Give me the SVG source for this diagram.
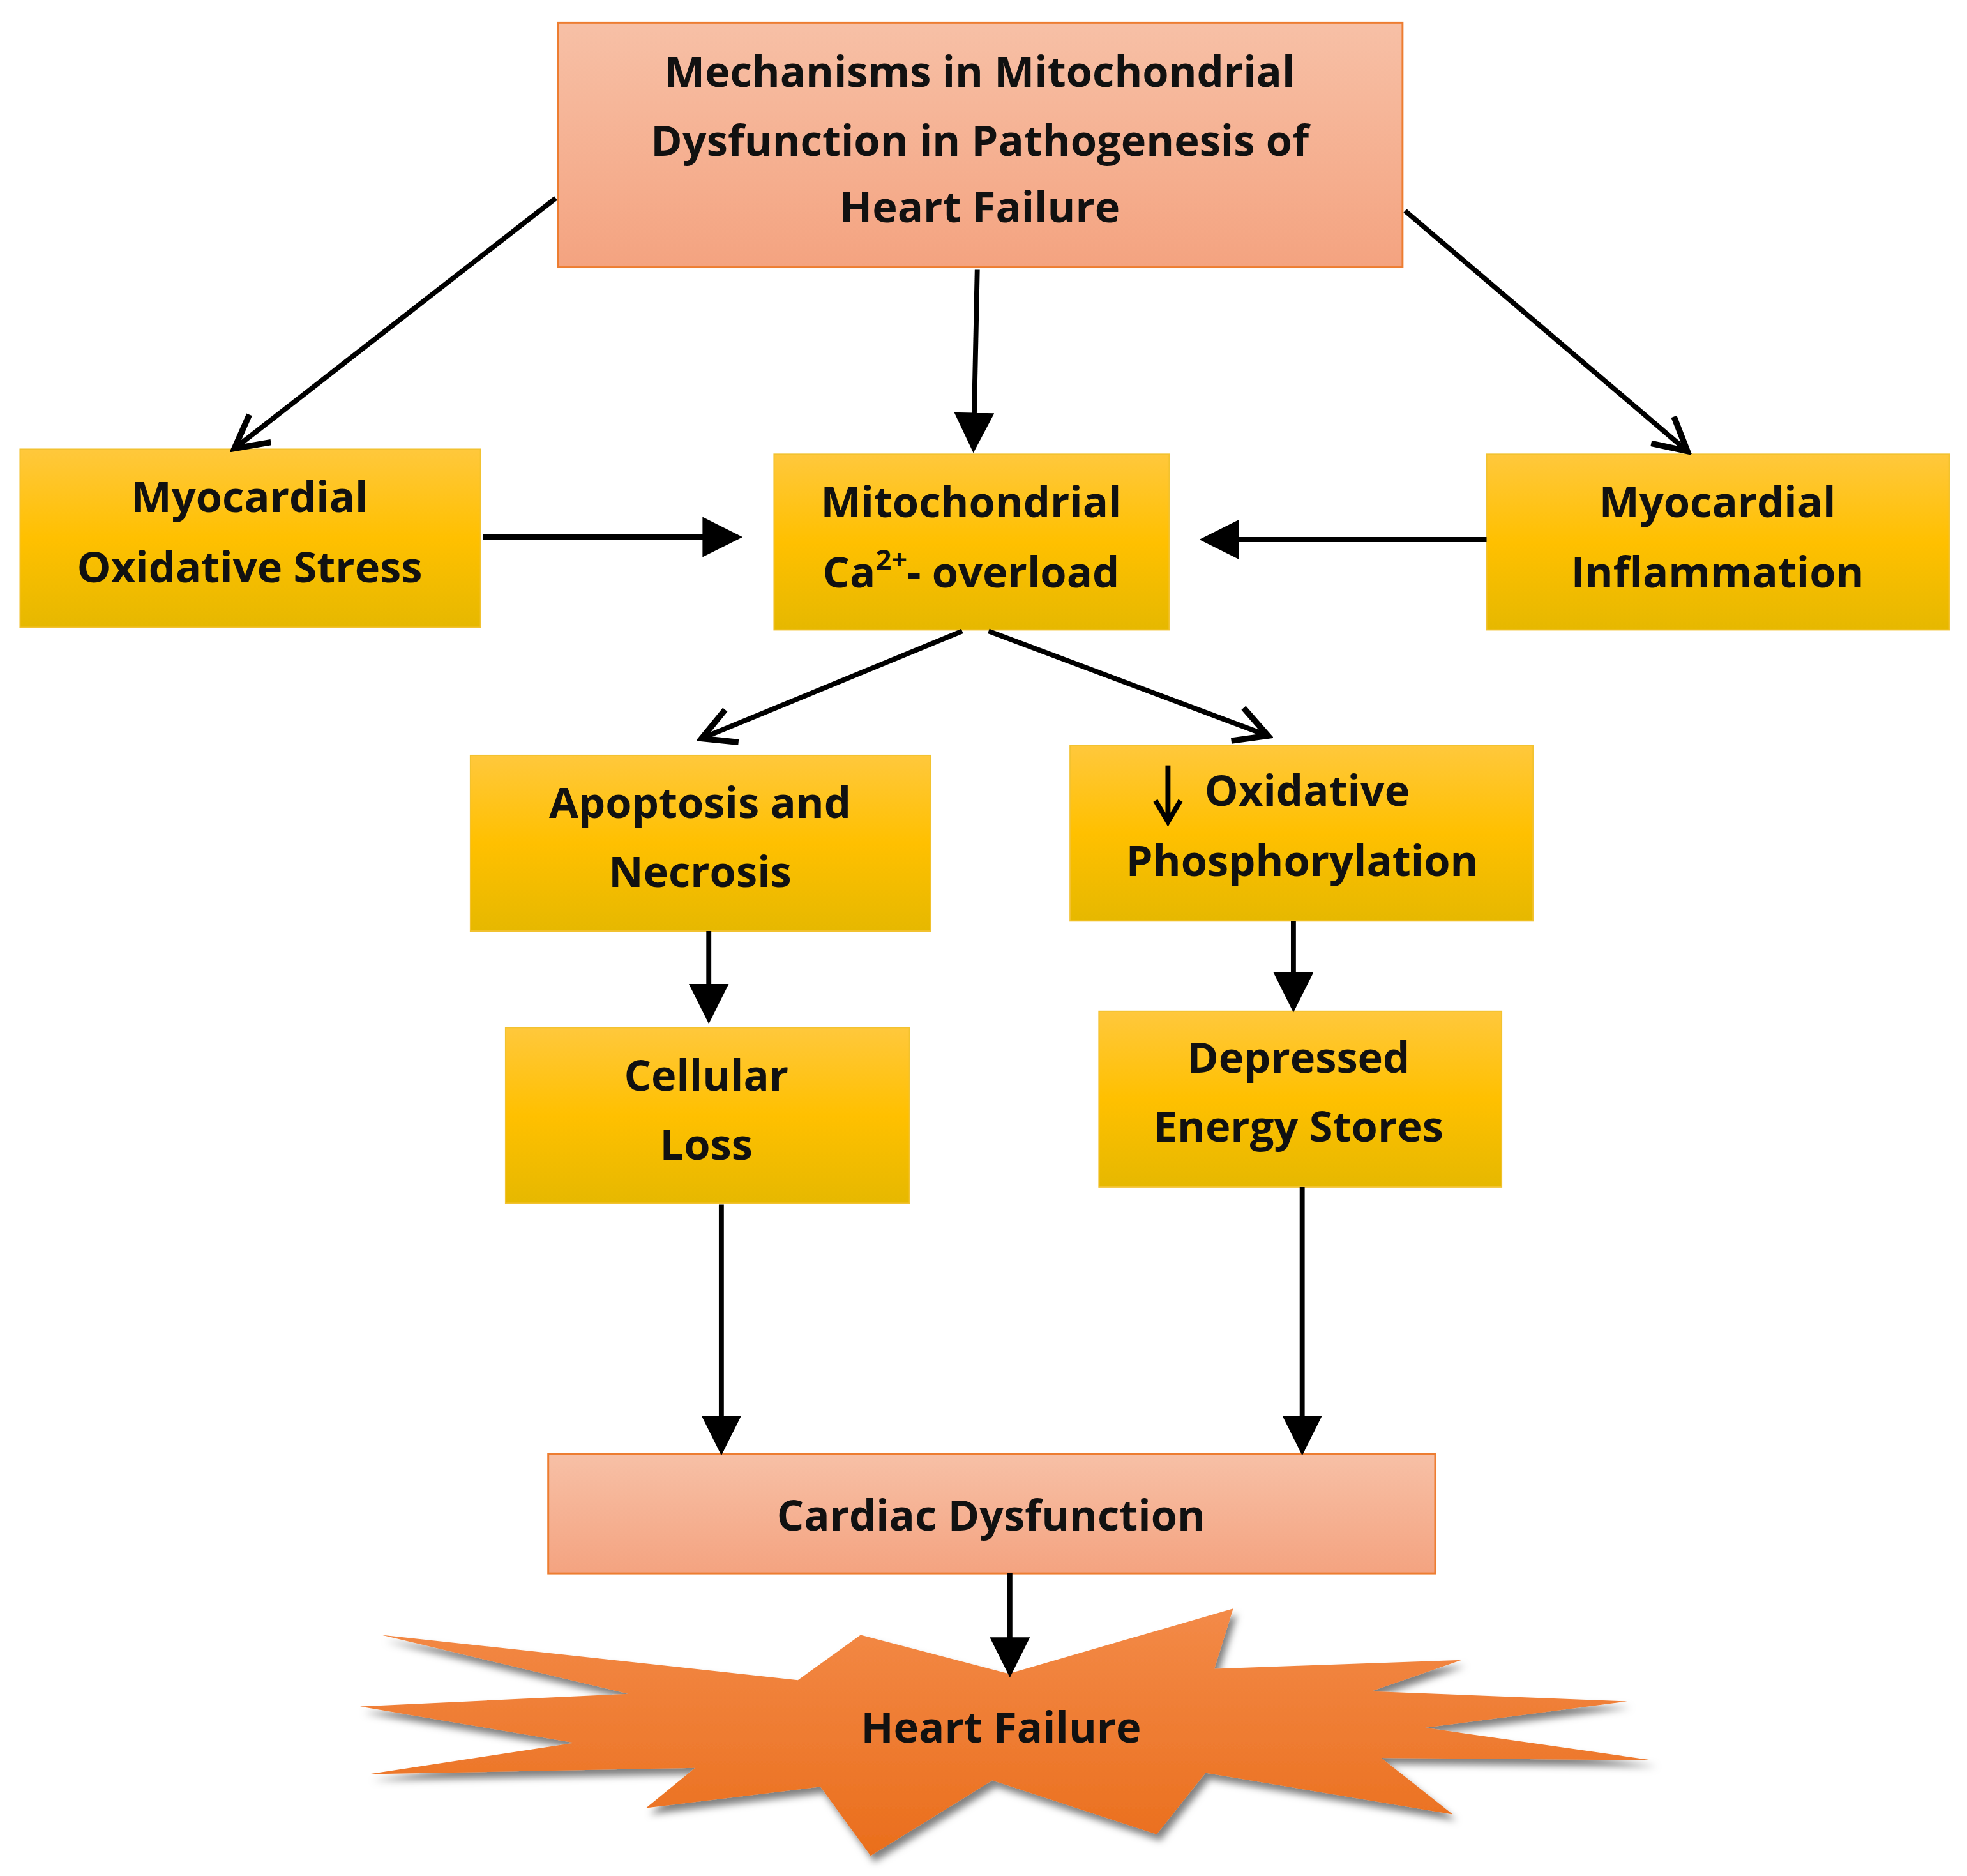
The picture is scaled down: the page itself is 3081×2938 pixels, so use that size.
<svg xmlns="http://www.w3.org/2000/svg" width="3081" height="2938" viewBox="0 0 3081 2938">
<defs>
<linearGradient id="pk" x1="0" y1="0" x2="0" y2="1"><stop offset="0" stop-color="#f7c0a6"/><stop offset="1" stop-color="#f4a380"/></linearGradient>
<linearGradient id="yl" x1="0" y1="0" x2="0" y2="1"><stop offset="0" stop-color="#ffc83c"/><stop offset="0.5" stop-color="#ffc000"/><stop offset="1" stop-color="#e6b800"/></linearGradient>
<linearGradient id="or" x1="0" y1="0" x2="0" y2="1"><stop offset="0" stop-color="#f38a48"/><stop offset="1" stop-color="#ea6e1c"/></linearGradient>
<marker id="ah" markerWidth="8" markerHeight="8" refX="7" refY="4" orient="auto" markerUnits="strokeWidth"><path d="M0,0 L8,4 L0,8 z" fill="#000"/></marker>
<marker id="av" markerWidth="8" markerHeight="8" refX="6" refY="4" orient="auto" markerUnits="strokeWidth"><path d="M0.5,0.5 L7,4 L0.5,7.5" fill="none" stroke="#000" stroke-width="1.2"/></marker>
<filter id="sh" x="-10%" y="-10%" width="120%" height="130%"><feDropShadow dx="3" dy="5" stdDeviation="3" flood-color="#000" flood-opacity="0.5"/></filter>
</defs>
<style>
.p{fill:url(#pk);stroke:#ed7d31;stroke-width:1.5}
.y{fill:url(#yl);stroke:#f2c230;stroke-width:1}
.t{font-family:"Open Sans","Liberation Sans",sans-serif;font-weight:bold;font-size:34px;fill:#111;text-anchor:middle}
.c{stroke:#000;stroke-width:4;fill:none}
</style>
<rect width="3081" height="2938" fill="#fff"/>
<g transform="scale(1.965)">
<g id="top"><rect class="p" x="445" y="18" width="673" height="195"/>
<text class="t" x="781" y="69">Mechanisms in Mitochondrial</text>
<text class="t" x="781" y="124">Dysfunction in Pathogenesis of</text>
<text class="t" x="781" y="177">Heart Failure</text></g>
<g id="oxstress"><rect class="y" x="16" y="358" width="367" height="142"/>
<text class="t" x="199" y="408">Myocardial</text><text class="t" x="199" y="464">Oxidative Stress</text></g>
<g id="mito"><rect class="y" x="617" y="362" width="315" height="140"/>
<text class="t" x="774" y="412">Mitochondrial</text><text class="t" x="774" y="468">Ca<tspan font-size="22" dy="-14">2+</tspan><tspan dy="14">- overload</tspan></text></g>
<g id="infl"><rect class="y" x="1185" y="362" width="369" height="140"/>
<text class="t" x="1369" y="412">Myocardial</text><text class="t" x="1369" y="468">Inflammation</text></g>
<g id="apop"><rect class="y" x="375" y="602" width="367" height="140"/>
<text class="t" x="558" y="652">Apoptosis and</text><text class="t" x="558" y="707">Necrosis</text></g>
<g id="oxphos"><rect class="y" x="853" y="594" width="369" height="140"/>
<path d="M931,610 V652" class="c" stroke-width="3.5"/><path d="M921,638 L931,655 L941,638" class="c" stroke-width="3.5"/>
<text class="t" x="1042" y="642">Oxidative</text><text class="t" x="1038" y="698">Phosphorylation</text></g>
<g id="cell"><rect class="y" x="403" y="819" width="322" height="140"/>
<text class="t" x="563" y="869">Cellular</text><text class="t" x="563" y="924">Loss</text></g>
<g id="dep"><rect class="y" x="876" y="806" width="321" height="140"/>
<text class="t" x="1035" y="855">Depressed</text><text class="t" x="1035" y="910">Energy Stores</text></g>
<g id="cardiac"><rect class="p" x="437" y="1159" width="707" height="95"/>
<text class="t" x="790" y="1220">Cardiac Dysfunction</text></g>
<g id="hf"><polygon filter="url(#sh)" fill="url(#or)" points="304,1303 501,1350 287,1360 458,1389 294,1414 554,1409 515,1441 654,1424 694,1479 791,1419 922,1462 961,1413 1158,1446 1101,1401 1318,1403 1136,1377 1297,1356 1093,1348 1165,1323 968,1330 983,1282 804,1334 686,1303 636,1339"/>
<text class="t" x="798" y="1389" font-size="42">Heart Failure</text></g>
<g id="connectors">
<path class="c" d="M443,158 L190,355" marker-end="url(#av)"/>
<path class="c" d="M779,215 L776,357" marker-end="url(#ah)"/>
<path class="c" d="M1120,168 L1342,357" marker-end="url(#av)"/>
<path class="c" d="M385,428 L588,428" stroke-width="5" marker-end="url(#ah)"/>
<path class="c" d="M1185,430 L960,430" stroke-width="5" marker-end="url(#ah)"/>
<path class="c" d="M767,503 L563,587" marker-end="url(#av)"/>
<path class="c" d="M788,503 L1007,585" marker-end="url(#av)"/>
<path class="c" d="M565,742 L565,812" marker-end="url(#ah)"/>
<path class="c" d="M1031,734 L1031,803" marker-end="url(#ah)"/>
<path class="c" d="M575,960 L575,1156" marker-end="url(#ah)"/>
<path class="c" d="M1038,946 L1038,1156" marker-end="url(#ah)"/>
<path class="c" d="M805,1254 L805,1333" marker-end="url(#ah)"/>
</g>
</g>
</svg>
